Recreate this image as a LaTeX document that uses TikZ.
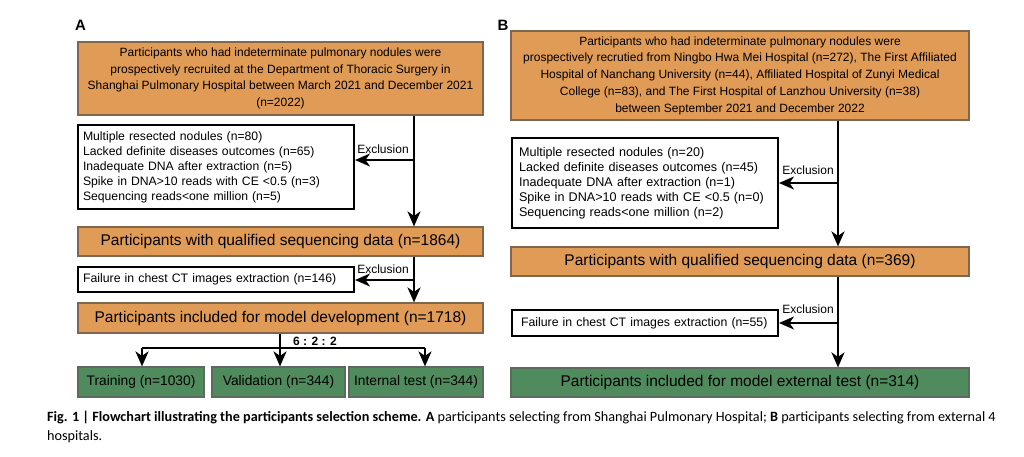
\documentclass[tikz,border=0pt]{standalone}
\usepackage{fontspec}
\setmainfont{Liberation Sans}
\newfontfamily\capfont{Carlito}
\usetikzlibrary{arrows.meta}
\definecolor{boxorange}{HTML}{E09B57}
\definecolor{boxbrown}{HTML}{7F6650}
\definecolor{boxgreen}{HTML}{4F8B5D}
\definecolor{boxgray}{HTML}{5E6A60}
\tikzset{
  orangebox/.style={draw=boxbrown, line width=1.2pt, fill=boxorange, inner sep=0pt, align=center},
  greenbox/.style={draw=boxgray, line width=1.2pt, fill=boxgreen, inner sep=0pt, align=center},
  exclbox/.style={draw=black, line width=2pt, fill=white, inner sep=0pt, align=left},
  arr/.style={line width=2pt, -{Stealth[length=15pt, width=13pt, inset=4.5pt]}},
  trunk/.style={line width=2pt},
  small/.style={font=\fontsize{12}{16.7}\selectfont},
  big/.style={font=\fontsize{15.5}{18}\selectfont},
  exlabel/.style={font=\fontsize{12}{14}\selectfont, inner sep=0pt},
}
\begin{document}
\begin{tikzpicture}[x=1pt, y=-1pt]
\useasboundingbox (0,0) rectangle (1024,456);
% panel A
\node[font=\fontsize{15}{15}\bfseries\selectfont, inner sep=0pt] (labA) at (80.5,25) {A};
\node[orangebox, small, minimum width=405pt, minimum height=73pt] (topA) at (280.5,78.5) {Participants who had indeterminate pulmonary nodules were\\prospectively recruited at the Department of Thoracic Surgery in\\Shanghai Pulmonary Hospital between March 2021 and December 2021\\(n=2022)};
\node[exclbox, font=\fontsize{12.2}{15}\selectfont, minimum width=276pt, minimum height=84pt, text width=266pt] (exA1) at (216,167) {Multiple resected nodules (n=80)\\Lacked definite diseases outcomes (n=65)\\Inadequate DNA after extraction (n=5)\\Spike in DNA>10 reads with CE <0.5 (n=3)\\Sequencing reads<one million (n=5)};
\node[orangebox, big, minimum width=405pt, minimum height=29pt] (qualA) at (280.5,241.5) {Participants with qualified sequencing data (n=1864)};
\node[exclbox, font=\fontsize{12.3}{15}\selectfont, minimum width=276pt, minimum height=25pt, text width=266pt] (exA2) at (216,279.5) {Failure in chest CT images extraction (n=146)};
\node[orangebox, big, minimum width=405pt, minimum height=30pt] (devA) at (280.5,318) {Participants included for model development (n=1718)};
\node[greenbox, font=\fontsize{13.8}{16}\selectfont, minimum width=126pt, minimum height=30pt] (trainA) at (141,382) {Training (n=1030)};
\node[greenbox, font=\fontsize{13.8}{16}\selectfont, minimum width=133pt, minimum height=30pt] (valA) at (278.5,382) {Validation (n=344)};
\node[greenbox, font=\fontsize{13.8}{16}\selectfont, minimum width=134pt, minimum height=30pt] (testA) at (416,382) {Internal test (n=344)};
\coordinate (trA1) at (414,160);
\coordinate (trA2) at (414,280);
\coordinate (splitA) at (280,348);
\coordinate (brL) at (142,348);
\coordinate (brR) at (425,348);
\draw[arr] (topA.south -| trA1) -- (qualA.north -| trA1);
\draw[arr] (trA1) -- (exA1.east |- trA1);
\draw[arr] (qualA.south -| trA2) -- (devA.north -| trA2);
\draw[arr] (trA2) -- (exA2.east |- trA2);
\draw[trunk] (devA.south -| splitA) -- (splitA);
\draw[trunk] (brL) -- (brR);
\draw[arr] (brL) -- (trainA.north -| brL);
\draw[arr] (splitA) -- (valA.north -| splitA);
\draw[arr] (brR) -- (testA.north -| brR);
\node[exlabel] (exlA1) at (383,149) {Exclusion};
\node[exlabel] (exlA2) at (383,269) {Exclusion};
\node[font=\fontsize{12}{14}\bfseries\selectfont, inner sep=0pt] (ratio) at (315,341) {6 : 2 : 2};
% panel B
\node[font=\fontsize{15}{15}\bfseries\selectfont, inner sep=0pt] (labB) at (503,25) {B};
\node[orangebox, small, minimum width=458pt, minimum height=89pt] (topB) at (740,75.5) {Participants who had indeterminate pulmonary nodules were\\prospectively recrutied from Ningbo Hwa Mei Hospital (n=272), The First Affiliated\\Hospital of Nanchang University (n=44), Affiliated Hospital of Zunyi Medical\\College (n=83), and The First Hospital of Lanzhou University (n=38)\\between September 2021 and December 2022};
\node[exclbox, font=\fontsize{12.6}{15}\selectfont, minimum width=266pt, minimum height=90pt, text width=252pt] (exB1) at (645,183) {Multiple resected nodules (n=20)\\Lacked definite diseases outcomes (n=45)\\Inadequate DNA after extraction (n=1)\\Spike in DNA>10 reads with CE <0.5 (n=0)\\Sequencing reads<one million (n=2)};
\node[orangebox, big, minimum width=458pt, minimum height=29pt] (qualB) at (740,261.5) {Participants with qualified sequencing data (n=369)};
\node[exclbox, font=\fontsize{12.3}{15}\selectfont, minimum width=266pt, minimum height=26pt, text width=248pt] (exB2) at (645,323) {Failure in chest CT images extraction (n=55)};
\node[greenbox, big, minimum width=458pt, minimum height=29pt] (extB) at (740,382.5) {Participants included for model external test (n=314)};
\coordinate (trB1) at (838,183);
\coordinate (trB2) at (838,323);
\draw[arr] (topB.south -| trB1) -- (qualB.north -| trB1);
\draw[arr] (trB1) -- (exB1.east |- trB1);
\draw[arr] (qualB.south -| trB2) -- (extB.north -| trB2);
\draw[arr] (trB2) -- (exB2.east |- trB2);
\node[exlabel] (exlB1) at (808,170) {Exclusion};
\node[exlabel] (exlB2) at (808,309) {Exclusion};
% caption
\node[anchor=west, align=left, inner sep=0pt, font=\capfont\fontsize{14.2}{19}\selectfont] (cap) at (47,427) {\textbf{Fig. 1 | Flowchart illustrating the participants selection scheme. A} participants selecting from Shanghai Pulmonary Hospital; \textbf{B} participants selecting from external 4\\hospitals.};
\end{tikzpicture}
\end{document}
